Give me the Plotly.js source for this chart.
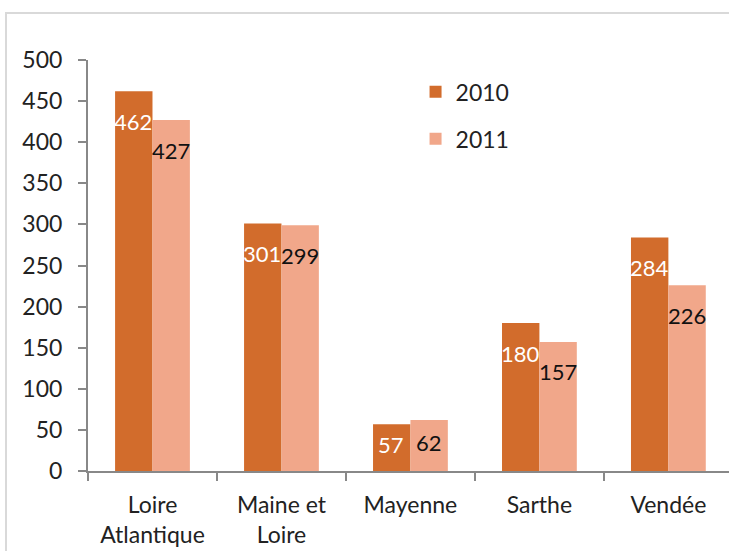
<!DOCTYPE html>
<html>
<head>
<meta charset="utf-8">
<script src="https://cdn.plot.ly/plotly-3.0.1.min.js"></script>
<style>html,body{margin:0;padding:0;background:#fff;}#chart{width:729px;height:551px;}</style>
</head>
<body>
<div id="chart"></div>
<script>
const categories = ["Loire Atlantique", "Maine et Loire", "Mayenne", "Sarthe", "Vendée"];
const tickLabels = ["Loire<br>Atlantique", "Maine et<br>Loire", "Mayenne", "Sarthe", "Vendée"];
const values2010 = [462, 301, 57, 180, 284];
const values2011 = [427, 299, 62, 157, 226];
const seriesNames = ["2010", "2011"];

const color2010 = "#D26C2C";
const color2011 = "#F1A78A";
const fontFam = "Lato, 'Open Sans', sans-serif";
const fontSize = 23;

const M = {l: 88, r: 0, t: 60, b: 80};
const plotH = 551 - M.t - M.b;
const yMax = 500;
const pxPerUnit = plotH / yMax;

const traces = [
  {type: "bar", name: seriesNames[0], x: categories, y: values2010, marker: {color: color2010}, legendgroup: "a", hoverinfo: "none"},
  {type: "bar", name: seriesNames[1], x: categories, y: values2011, marker: {color: color2011}, legendgroup: "b", hoverinfo: "none"}
];

const annotations = [];
function addLabels(vals, xshift, col) {
  vals.forEach((v, i) => {
    const h = v * pxPerUnit;
    const off = Math.min(30, h / 2 - 3);
    annotations.push({
      x: categories[i], y: v, xref: "x", yref: "y",
      text: String(v), showarrow: false,
      xshift: xshift, yshift: -off,
      xanchor: "center", yanchor: "middle",
      font: {family: fontFam, size: fontSize - 1, color: col}
    });
  });
}
addLabels(values2010, -19, "#ffffff");
addLabels(values2011, 19, "#111111");

const layout = {
  width: 729, height: 551,
  margin: M,
  paper_bgcolor: "#ffffff", plot_bgcolor: "#ffffff",
  font: {family: fontFam, size: fontSize, color: "#222222"},
  barmode: "group", bargap: 0.42, bargroupgap: 0,
  showlegend: true,
  legend: {x: 0.511, y: 0.975, xanchor: "left", yanchor: "top", traceorder: "grouped", tracegroupgap: 14,
           font: {family: fontFam, size: fontSize, color: "#222222"}, bgcolor: "rgba(0,0,0,0)"},
  xaxis: {
    type: "category", range: [-0.5, 4.47],
    tickmode: "array", tickvals: categories, ticktext: tickLabels,
    tickson: "boundaries", ticks: "outside", ticklen: 8, tickcolor: "#888888", tickwidth: 2,
    showline: true, linecolor: "#888888", linewidth: 2,
    showgrid: false, zeroline: false, fixedrange: true, ticklabelstandoff: 12
  },
  yaxis: {
    range: [0, yMax], dtick: 50, tick0: 0,
    ticks: "outside", ticklen: 8, tickcolor: "#888888", tickwidth: 2,
    showline: true, linecolor: "#888888", linewidth: 2,
    showgrid: false, zeroline: false, fixedrange: true, ticklabelstandoff: 11
  },
  annotations: annotations,
  shapes: [{
    type: "rect", xref: "paper", yref: "paper",
    x0: (6 - M.l) / (729 - M.l - M.r), x1: 1.2,
    y0: -0.3, y1: (551 - M.b - 13) / plotH,
    line: {color: "#D9D9D9", width: 2}, fillcolor: "rgba(0,0,0,0)", layer: "below"
  }]
};

Plotly.newPlot("chart", traces, layout, {staticPlot: true, displayModeBar: false});
</script>
</body>
</html>
